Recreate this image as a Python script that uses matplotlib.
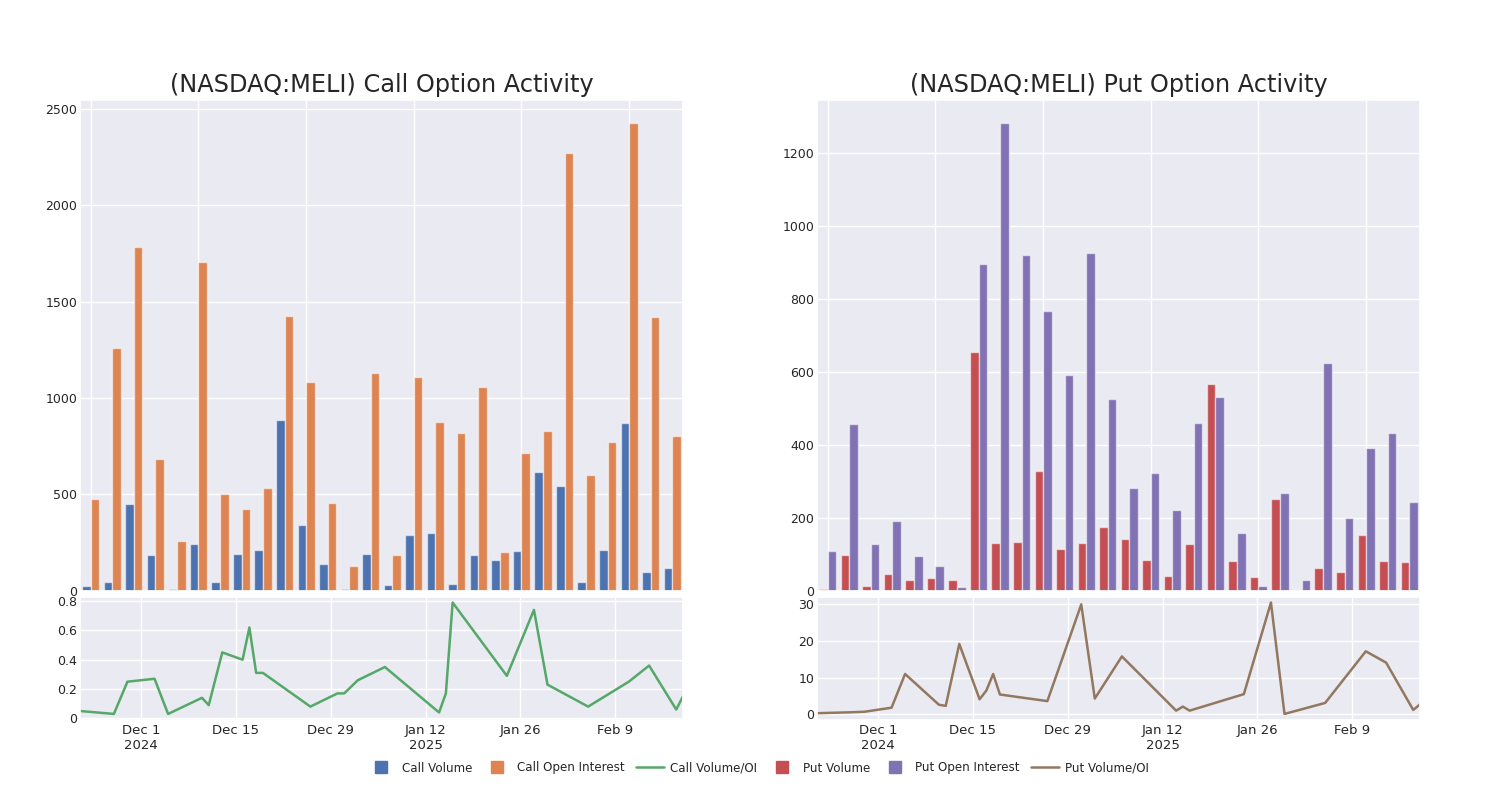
import matplotlib
matplotlib.use("Agg")
import matplotlib.pyplot as plt
from matplotlib.lines import Line2D
from matplotlib.ticker import FuncFormatter
import numpy as np
import pandas as pd
import seaborn as sns

sns.set_theme(style="darkgrid")
plt.rcParams['font.family'] = ['DejaVu Sans']

dates = ["2024-11-22", "2024-11-27", "2024-11-29", "2024-12-03", "2024-12-05",
         "2024-12-10", "2024-12-11", "2024-12-13", "2024-12-16", "2024-12-17",
         "2024-12-18", "2024-12-19", "2024-12-26", "2024-12-30", "2024-12-31",
         "2025-01-02", "2025-01-06", "2025-01-14", "2025-01-15", "2025-01-16",
         "2025-01-24", "2025-01-28", "2025-01-30", "2025-02-05", "2025-02-11",
         "2025-02-14", "2025-02-18", "2025-02-19"]

call_volume = [21, 42, 448, 186, 7, 243, 42, 188, 212, 885, 339, 139, 7, 191,
               26, 290, 301, 35, 186, 158, 207, 614, 541, 45, 209, 872, 97, 118]
call_oi = [476, 1257, 1785, 685, 257, 1708, 499, 421, 534, 1425, 1081, 452, 127, 1130,
           182, 1109, 874, 817, 1055, 200, 716, 827, 2273, 598, 770, 2426, 1418, 800]
call_ratio = [0.05, 0.03, 0.25, 0.27, 0.03, 0.14, 0.09, 0.45, 0.40, 0.62, 0.31, 0.31,
              0.08, 0.17, 0.17, 0.26, 0.35, 0.04, 0.17, 0.79, 0.29, 0.74, 0.23, 0.08,
              0.25, 0.36, 0.06, 0.15]

put_volume = [4, 96, 11, 44, 28, 33, 30, 655, 130, 133, 328, 114, 130, 175,
              142, 83, 40, 127, 566, 80, 37, 250, 1, 61, 50, 151, 82, 79]
put_oi = [107, 456, 128, 190, 94, 67, 10, 894, 1281, 921, 767, 590, 926, 526,
          280, 321, 220, 459, 530, 157, 12, 268, 28, 625, 198, 390, 432, 242]
put_ratio = [0.3, 0.55, 0.7, 1.8, 11.0, 2.6, 2.3, 19.2, 4.1, 6.5, 11.0, 5.4, 3.6, 24.7,
             30.0, 4.3, 15.8, 1.0, 2.1, 1.0, 5.5, 30.5, 0.1, 3.1, 17.2, 14.1, 1.2, 2.7]

tick_dates = ["2024-12-01", "2024-12-15", "2024-12-29", "2025-01-12", "2025-01-26", "2025-02-09"]
tick_labels = ["Dec 1\n2024", "Dec 15", "Dec 29", "Jan 12\n2025", "Jan 26", "Feb 9"]

call_ratio_ticks = [0, 0.2, 0.4, 0.6, 0.8]
put_ratio_ticks = [0, 10, 20, 30]

C_BLUE = "#4C72B0"
C_ORANGE = "#DD8452"
C_GREEN = "#55A868"
C_RED = "#C44E52"
C_PURPLE = "#8172B3"
C_BROWN = "#937860"

dt = pd.to_datetime(dates)
tdt = pd.to_datetime(tick_dates)

fig = plt.figure(figsize=(15, 8), dpi=100)

W = 603 / 1500
gfmt = FuncFormatter(lambda v, p: "%g" % v)


def panel(left_px, title, vol, oi, ratio, rticks, c1, c2, c3):
    x0 = left_px / 1500
    axb = fig.add_axes([x0, (800 - 590.5) / 800, W, (590.5 - 100) / 800])
    axl = fig.add_axes([x0, (800 - 719.5) / 800, W, (719.5 - 597) / 800])
    idx = np.arange(len(vol))
    bw = 0.4
    edge = (1, 1, 1, 0.55)
    axb.bar(idx - bw / 2, vol, width=bw, color=c1, edgecolor=edge, linewidth=1.0)
    axb.bar(idx + bw / 2, oi, width=bw, color=c2, edgecolor=edge, linewidth=1.0)
    axb.set_xlim(-0.5, len(vol) - 0.5)
    axb.set_xticks(idx[::5])
    axb.set_xticklabels([])
    axb.tick_params(axis='x', length=0)
    axb.tick_params(axis='y', labelsize=9, length=0, pad=2)
    axb.yaxis.set_major_formatter(gfmt)
    axb.set_title(title, fontsize=17.3, pad=6)

    axl.plot(dt, ratio, color=c3, linewidth=1.8)
    axl.set_xlim(dt[0], dt[-1])
    axl.set_xticks(tdt)
    axl.set_xticklabels(tick_labels, fontsize=9.5, linespacing=1.25)
    axl.set_yticks(rticks)
    axl.yaxis.set_major_formatter(gfmt)
    axl.tick_params(axis='y', labelsize=9, length=0, pad=2)
    axl.tick_params(axis='x', length=0, pad=3)
    return axb, axl


panel(80, "(NASDAQ:MELI) Call Option Activity", call_volume, call_oi, call_ratio,
      call_ratio_ticks, C_BLUE, C_ORANGE, C_GREEN)
panel(817, "(NASDAQ:MELI) Put Option Activity", put_volume, put_oi, put_ratio,
      put_ratio_ticks, C_RED, C_PURPLE, C_BROWN)


def sq(c, lab):
    return Line2D([0], [0], marker='s', linestyle='none', markersize=8.5,
                  markerfacecolor=c, markeredgecolor=c, label=lab)


handles = [
    sq(C_BLUE, "Call Volume"),
    sq(C_ORANGE, "Call Open Interest"),
    Line2D([0], [0], color=C_GREEN, lw=1.8, label="Call Volume/OI"),
    sq(C_RED, "Put Volume"),
    sq(C_PURPLE, "Put Open Interest"),
    Line2D([0], [0], color=C_BROWN, lw=1.8, label="Put Volume/OI"),
]
fig.legend(handles=handles, loc="center", bbox_to_anchor=(758 / 1500, 1 - 768 / 800),
           ncol=6, frameon=False, fontsize=8.6, handlelength=2.4,
           columnspacing=0.9, handletextpad=0.5)

fig.savefig("out.png", dpi=100, facecolor="white")
